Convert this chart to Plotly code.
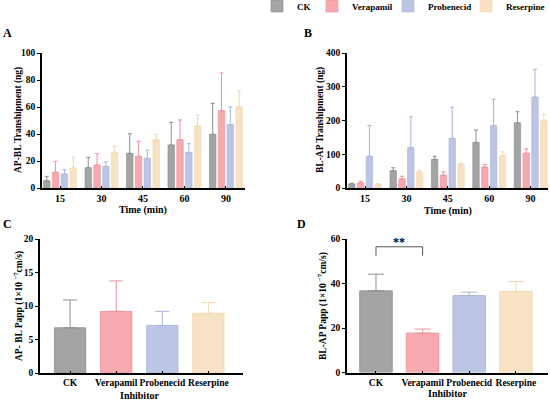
import plotly.graph_objects as go

W, H = 550, 403

groups = ['CK', 'Verapamil', 'Probenecid', 'Reserpine']
times = ['15', '30', '45', '60', '90']

fill = ['#a4a4a4', '#f6a9af', '#bcc5e4', '#f8e2c4']
edge = ['#8e8e8e', '#ef929a', '#a9b4dc', '#f1d6b0']

# A: AP-BL transhipment (ng), mean / SD per time point
a_ck = [5.4, 15.0, 25.7, 31.9, 39.8]
a_ck_sd = [3.2, 7.7, 14.5, 16.7, 22.9]
a_ver = [11.6, 17.0, 23.5, 35.8, 57.3]
a_ver_sd = [8.2, 8.4, 11.1, 14.6, 27.9]
a_pro = [10.4, 16.0, 22.0, 26.4, 46.9]
a_pro_sd = [3.2, 3.3, 6.0, 6.4, 13.1]
a_res = [14.8, 26.4, 35.8, 45.9, 60.0]
a_res_sd = [8.2, 4.5, 3.7, 8.1, 12.0]

# B: BL-AP transhipment (ng)
b_ck = [12, 51, 85, 135, 193]
b_ck_sd = [2, 9, 9, 37, 33]
b_ver = [15, 27, 38, 62, 103]
b_ver_sd = [5, 8, 10, 8, 13]
b_pro = [94, 120, 147, 185, 269]
b_pro_sd = [91, 91, 92, 78, 83]
b_res = [10, 47, 70, 96, 199]
b_res_sd = [3, 4, 4, 11, 20]

# C / D: Papp (1e-7 cm/s) per inhibitor
c_papp = [6.75, 9.2, 7.1, 8.9]
c_sd = [4.15, 4.55, 2.1, 1.6]
d_papp = [36.7, 17.7, 34.6, 36.4]
d_sd = [7.5, 1.8, 1.5, 4.5]

a_means = [a_ck, a_ver, a_pro, a_res]
a_sds = [a_ck_sd, a_ver_sd, a_pro_sd, a_res_sd]
b_means = [b_ck, b_ver, b_pro, b_res]
b_sds = [b_ck_sd, b_ver_sd, b_pro_sd, b_res_sd]

# left edge (px) of each legend entry's text in the top strip
legend_text_x = [301, 356, 432, 510]


def xd(left, right):
    return [left / W, right / W]


def yd(top, bottom):
    return [1 - bottom / H, 1 - top / H]


def err(sd, color, cap):
    return dict(type='data', array=sd, arrayminus=[0] * len(sd), symmetric=False,
                color=color, thickness=1, width=cap)


fig = go.Figure()

for i, g in enumerate(groups):
    leg = 'legend' if i == 0 else 'legend%d' % (i + 1)
    fig.add_trace(go.Bar(
        x=times, y=a_means[i], name=g, legend=leg,
        marker=dict(color=fill[i], line=dict(color=edge[i], width=0.6)),
        error_y=err(a_sds[i], edge[i], 2),
        xaxis='x', yaxis='y'
    ))
    fig.add_trace(go.Bar(
        x=times, y=b_means[i], name=g, showlegend=False,
        marker=dict(color=fill[i], line=dict(color=edge[i], width=0.6)),
        error_y=err(b_sds[i], edge[i], 2),
        xaxis='x2', yaxis='y2'
    ))
    fig.add_trace(go.Bar(
        x=[g], y=[c_papp[i]], name=g, showlegend=False, width=0.68, offsetgroup='c',
        marker=dict(color=fill[i], line=dict(color=edge[i], width=0.8)),
        error_y=err([c_sd[i]], edge[i], 7),
        xaxis='x3', yaxis='y3'
    ))
    fig.add_trace(go.Bar(
        x=[g], y=[d_papp[i]], name=g, showlegend=False, width=0.7, offsetgroup='d',
        marker=dict(color=fill[i], line=dict(color=edge[i], width=0.8)),
        error_y=err([d_sd[i]], edge[i], 8),
        xaxis='x4', yaxis='y4'
    ))

ax_x = dict(type='category', showline=True, linecolor='black', linewidth=1.5,
            ticks='inside', ticklen=2, tickcolor='black', showgrid=False,
            zeroline=False, tickangle=0, tickfont=dict(size=10))
ax_y = dict(showline=True, linecolor='black', linewidth=1.5, ticks='outside',
            ticklen=3, tickcolor='black', showgrid=False, zeroline=False,
            tickfont=dict(size=9.5))

layout = dict(
    width=W, height=H,
    margin=dict(l=0, r=0, t=0, b=0, autoexpand=False),
    paper_bgcolor='white', plot_bgcolor='white',
    font=dict(family='Liberation Serif', size=10, color='black', weight='bold'),
    barmode='group', bargap=0.15, bargroupgap=0.26,
    showlegend=True,
    xaxis=dict(ax_x, domain=xd(42, 245), range=[-0.434, 4.46], anchor='y'),
    yaxis=dict(ax_y, domain=yd(53, 188), range=[0, 100], dtick=20, anchor='x'),
    xaxis2=dict(ax_x, domain=xd(347, 548), range=[-0.435, 4.42], anchor='y2'),
    yaxis2=dict(ax_y, domain=yd(53, 188), range=[0, 400], dtick=100, anchor='x2'),
    xaxis3=dict(ax_x, domain=xd(40, 243), range=[-0.652, 3.75], anchor='y3',
                categoryorder='array', categoryarray=groups, tickfont=dict(size=9.5)),
    yaxis3=dict(ax_y, domain=yd(239, 373), range=[0, 20], dtick=5, anchor='x3'),
    xaxis4=dict(ax_x, domain=xd(347, 548), range=[-0.622, 3.69], anchor='y4',
                categoryorder='array', categoryarray=groups, tickfont=dict(size=9.5)),
    yaxis4=dict(ax_y, domain=yd(239, 372.5), range=[0, 60], dtick=20, anchor='x4'),
)
for i, tx in enumerate(legend_text_x):
    key = 'legend' if i == 0 else 'legend%d' % (i + 1)
    layout[key] = dict(orientation='h', x=(tx - 44) / W, xanchor='left',
                       y=1 - 6 / H, yanchor='middle', font=dict(size=9),
                       bgcolor='rgba(0,0,0,0)', itemwidth=30)
fig.update_layout(**layout)

# panel letters, axis titles
notes = [
    ('A', 7, 33, 0, 12), ('B', 308, 33, 0, 12), ('C', 7, 224, 0, 12), ('D', 301, 224, 0, 12),
    ('Time (min)', 143, 210, 0, 10), ('Time (min)', 448, 211, 0, 10),
    ('Inhibitor', 139, 395, 0, 10), ('Inhibitor', 447, 393, 0, 10),
    ('AP-BL Transhipment (ng)', 19, 120, -90, 9.5),
    ('BL-AP Transhipment (ng)', 321, 120, -90, 9.5),
    ('AP- BL Papp (1×10 <sup>−7</sup>cm/s)', 18, 306, -90, 9.5),
    ('BL-AP Papp (1×10 <sup>−7</sup>cm/s)', 322, 306, -90, 9.5),
]
for text, px, py, ang, size in notes:
    fig.add_annotation(text=text, x=px / W, y=1 - py / H, xref='paper', yref='paper',
                       showarrow=False, textangle=ang, font=dict(size=size),
                       xanchor='center', yanchor='middle')

# significance bracket CK vs Verapamil in D
i0, i1 = groups.index('CK'), groups.index('Verapamil')
for x0, y0, x1, y1 in [(i0, 52.5, i0, 56.5), (i0, 56.5, i1, 56.5), (i1, 56.5, i1, 52.5)]:
    fig.add_shape(type='line', xref='x4', yref='y4', x0=x0, y0=y0, x1=x1, y1=y1,
                  line=dict(color='#555555', width=1))
fig.add_annotation(text='**', x=(i0 + i1) / 2, y=58.5, xref='x4', yref='y4',
                   showarrow=False, font=dict(size=12), yanchor='middle')

# page body has a default 8px margin; drop it so the figure sits at the window origin
fig.write_html('out.html', config={'displayModeBar': False},
               post_script="document.body.style.margin='0';")
